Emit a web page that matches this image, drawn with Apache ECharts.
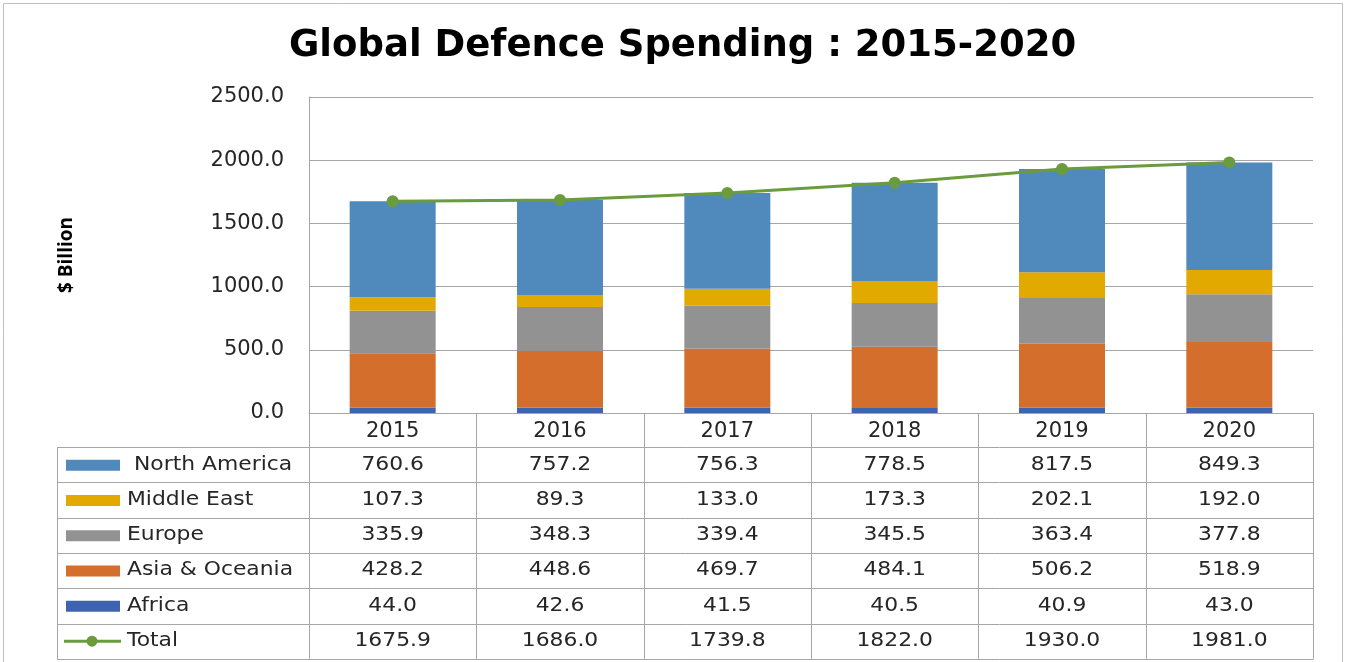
<!DOCTYPE html>
<html>
<head>
<meta charset="utf-8">
<script src="https://cdn.jsdelivr.net/npm/echarts@6/dist/echarts.min.js"></script>
<style>
  html, body { margin: 0; padding: 0; background: #fff; }
  #chart { width: 1346px; height: 662px; }
</style>
</head>
<body>
<div id="chart"></div>
<script>
// data
var years = ['2015', '2016', '2017', '2018', '2019', '2020'];
var northAmerica = [760.6, 757.2, 756.3, 778.5, 817.5, 849.3];
var middleEast = [107.3, 89.3, 133.0, 173.3, 202.1, 192.0];
var europe = [335.9, 348.3, 339.4, 345.5, 363.4, 377.8];
var asiaOceania = [428.2, 448.6, 469.7, 484.1, 506.2, 518.9];
var africa = [44.0, 42.6, 41.5, 40.5, 40.9, 43.0];
var total = [1675.9, 1686.0, 1739.8, 1822.0, 1930.0, 1981.0];

var colors = {
  na: '#508abd',
  me: '#e2aa00',
  eu: '#929292',
  ao: '#d46e2c',
  af: '#3e64b0',
  total: '#6a9b3d'
};

var font = 'DejaVu Sans';
var txtColor = '#262626';
var lineColor = '#a6a6a6';

var gridLeft = 309, gridRight = 1313, gridTop = 97, gridBottom = 413;

var chartDom = document.getElementById('chart');
var myChart = echarts.init(chartDom);

function barSeries(name, data, color) {
  return {
    name: name,
    type: 'bar',
    stack: 'total',
    barWidth: 86,
    data: data,
    itemStyle: { color: color }
  };
}

var option = {
  animation: false,
  title: {
    text: 'Global Defence Spending : 2015-2020',
    left: 284,
    top: 23,
    textStyle: { fontFamily: font, fontWeight: 'bold', fontSize: 37, color: '#000' }
  },
  grid: {
    left: gridLeft,
    right: 1346 - gridRight,
    top: gridTop,
    bottom: 662 - gridBottom
  },
  xAxis: {
    type: 'category',
    data: years,
    axisLine: { lineStyle: { color: lineColor } },
    axisTick: { show: false },
    axisLabel: { fontFamily: font, fontSize: 21, color: txtColor, margin: 8 }
  },
  yAxis: {
    type: 'value',
    min: 0,
    max: 2500,
    interval: 500,
    name: '$ Billion',
    nameLocation: 'middle',
    nameGap: 233,
    nameTextStyle: { fontFamily: 'Open Sans', fontWeight: 'bold', fontSize: 19, color: '#000' },
    axisLine: { show: true, lineStyle: { color: lineColor } },
    axisTick: { show: false },
    axisLabel: {
      fontFamily: font, fontSize: 21, color: txtColor, margin: 25,
      formatter: function (v) { return v.toFixed(1); }
    },
    splitLine: { lineStyle: { color: lineColor } }
  },
  series: [
    barSeries('Africa', africa, colors.af),
    barSeries('Asia & Oceania', asiaOceania, colors.ao),
    barSeries('Europe', europe, colors.eu),
    barSeries('Middle East', middleEast, colors.me),
    barSeries('North America', northAmerica, colors.na),
    {
      name: 'Total',
      type: 'line',
      data: total,
      symbol: 'circle',
      symbolSize: 12,
      lineStyle: { color: colors.total, width: 3 },
      itemStyle: { color: colors.total },
      z: 5
    }
  ]
};

myChart.setOption(option);

// data table under the chart
var rows = [
  { name: ' North America', values: northAmerica, color: colors.na },
  { name: 'Middle East', values: middleEast, color: colors.me },
  { name: 'Europe', values: europe, color: colors.eu },
  { name: 'Asia & Oceania', values: asiaOceania, color: colors.ao },
  { name: 'Africa', values: africa, color: colors.af },
  { name: 'Total', values: total, color: colors.total, line: true }
];

var tableLeft = 57;
var headerBottom = 447;
var rowH = 35.3;
var colW = (gridRight - gridLeft) / years.length;
var els = [];
var ls = { stroke: lineColor, lineWidth: 1 };
var cellFont = '19px "' + font + '"';
var stretch = 1.15; // the source text looks a little wide

// outer frame
els.push({ type: 'rect', shape: { x: 3.5, y: 3.5, width: 1339, height: 670 }, style: { fill: 'none', stroke: '#bfbfbf', lineWidth: 1 }, silent: true });

// verticals
for (var c = 0; c <= years.length; c++) {
  var xx = Math.round(gridLeft + c * colW) + 0.5;
  els.push({ type: 'line', shape: { x1: xx, y1: gridBottom, x2: xx, y2: headerBottom + rowH * rows.length }, style: ls, silent: true });
}
els.push({ type: 'line', shape: { x1: tableLeft + 0.5, y1: headerBottom, x2: tableLeft + 0.5, y2: headerBottom + rowH * rows.length }, style: ls, silent: true });

// horizontals
for (var r = 0; r <= rows.length; r++) {
  var yy = Math.round(headerBottom + r * rowH) + 0.5;
  els.push({ type: 'line', shape: { x1: tableLeft, y1: yy, x2: gridRight + 0.5, y2: yy }, style: ls, silent: true });
}

rows.forEach(function (row, r) {
  var cy = headerBottom + r * rowH + rowH / 2;
  if (row.line) {
    els.push({ type: 'line', shape: { x1: 64, y1: cy, x2: 121, y2: cy }, style: { stroke: row.color, lineWidth: 3 }, silent: true });
    els.push({ type: 'circle', shape: { cx: 92, cy: cy, r: 5.5 }, style: { fill: row.color }, silent: true });
  } else {
    els.push({ type: 'rect', shape: { x: 66, y: cy - 5, width: 54, height: 11 }, style: { fill: row.color }, silent: true });
  }
  els.push({
    type: 'text', x: 127, y: cy, scaleX: stretch,
    style: { text: row.name, font: cellFont, fill: txtColor, verticalAlign: 'middle', textVerticalAlign: 'middle' },
    silent: true
  });
  row.values.forEach(function (v, i) {
    var px = myChart.convertToPixel({ xAxisIndex: 0 }, i);
    els.push({
      type: 'text', x: px, y: cy, scaleX: stretch,
      style: { text: v.toFixed(1), font: cellFont, fill: txtColor, align: 'center', verticalAlign: 'middle', textAlign: 'center', textVerticalAlign: 'middle' },
      silent: true
    });
  });
});

myChart.setOption({ graphic: { elements: els } });
</script>
</body>
</html>
